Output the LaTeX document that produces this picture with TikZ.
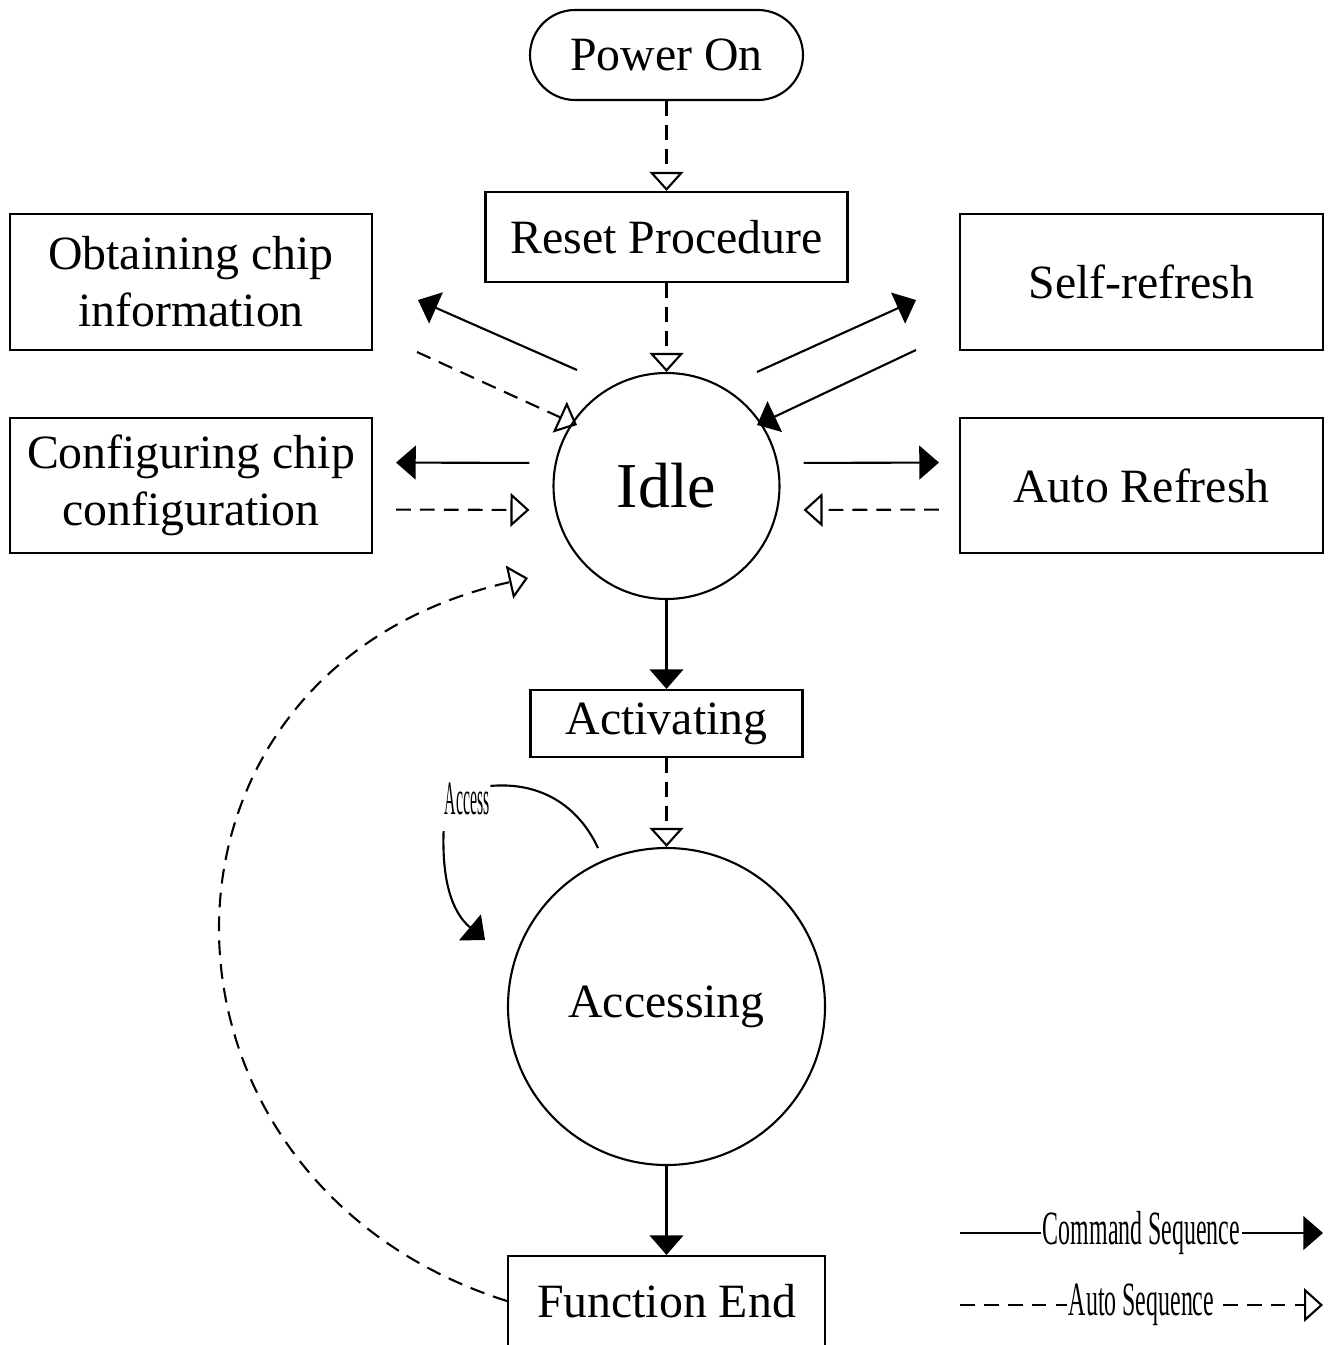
\documentclass[tikz,border=0pt]{standalone}
\usepackage{fontspec}
\setmainfont{Liberation Serif}
\usetikzlibrary{arrows.meta}

\begin{document}
\begin{tikzpicture}[
    line width=0.6pt,
    every node/.style={font=\fontsize{13.6}{16.3}\selectfont},
    box/.style={draw, rectangle, align=center, inner sep=0pt},
    stat/.style={draw, circle, inner sep=0pt},
    cmdseq/.style={-{Triangle[length=5.6pt,width=9.6pt]}},
    autoseq/.style={dash pattern=on 4.2pt off 2.6pt, -{Triangle[open,length=5.4pt,width=9.6pt]}},
    lgtext/.style={fill=white, inner sep=0.5pt}
]
    \useasboundingbox (0,0) rectangle (13.31,-13.45);

    \node [box, rounded corners=0.45cm, minimum width=2.73cm, minimum height=0.9cm] (pwron) at (6.665,-0.55) {Power On};
    \node [box, minimum width=3.62cm, minimum height=0.9cm] (reset) at (6.665,-2.37) {Reset Procedure};
    \node [box, minimum width=3.62cm, minimum height=1.36cm] (obtain) at (1.91,-2.82) {Obtaining chip\\information};
    \node [box, minimum width=3.63cm, minimum height=1.36cm] (selfref) at (11.415,-2.82) {Self-refresh};
    \node [box, minimum width=3.62cm, minimum height=1.35cm] (config) at (1.91,-4.855) {Configuring chip\\configuration};
    \node [box, minimum width=3.63cm, minimum height=1.35cm] (autoref) at (11.415,-4.855) {Auto Refresh};
    \node [stat, minimum size=2.26cm, font=\fontsize{18.2}{22}\selectfont] (idle) at (6.665,-4.86) {Idle};
    \node [box, minimum width=2.72cm, minimum height=0.67cm] (activ) at (6.665,-7.235) {Activating};
    \node [stat, minimum size=3.17cm] (access) at (6.665,-10.065) {Accessing};
    \node [box, minimum width=3.17cm, minimum height=0.9cm] (fend) at (6.665,-13.01) {Function End};
    \node [inner sep=0pt] (acclbl) at (4.67,-7.99) {\scalebox{0.33}[1]{Access}};

    \coordinate (ob1) at (5.77,-3.70);
    \coordinate (ob2) at (4.18,-3.00);
    \coordinate (ob3) at (4.17,-3.52);
    \coordinate (ob4) at (5.77,-4.25);
    \coordinate (sr1) at (7.57,-3.72);
    \coordinate (sr2) at (9.16,-3.00);
    \coordinate (sr3) at (9.16,-3.50);
    \coordinate (sr4) at (7.57,-4.25);
    \coordinate (ret) at (5.28,-5.78);
    \coordinate (acc1) at (5.98,-8.48);
    \coordinate (acc2) at (4.85,-9.40);
    \coordinate (lg1) at (9.60,-12.33);
    \coordinate (lg2) at (13.23,-12.33);
    \coordinate (lg3) at (9.60,-13.05);
    \coordinate (lg4) at (13.23,-13.05);

    \draw [autoseq] (pwron) -- (reset);
    \draw [autoseq] (reset) -- (idle);
    \draw [cmdseq] (idle) -- (activ);
    \draw [autoseq] (activ) -- (access);
    \draw [cmdseq] (access) -- (fend);

    \draw [cmdseq] (ob1) -- (ob2);
    \draw [autoseq] (ob3) -- (ob4);
    \draw [cmdseq] (sr1) -- (sr2);
    \draw [cmdseq] (sr3) -- (sr4);

    \draw [cmdseq, shorten <=0.23cm, shorten >=0.23cm] ([yshift=0.23cm]idle.west) -- ([yshift=0.23cm]config.east);
    \draw [autoseq, shorten <=0.23cm, shorten >=0.23cm] ([yshift=-0.24cm]config.east) -- ([yshift=-0.24cm]idle.west);
    \draw [cmdseq, shorten <=0.23cm, shorten >=0.2cm] ([yshift=0.23cm]idle.east) -- ([yshift=0.23cm]autoref.west);
    \draw [autoseq, shorten <=0.2cm, shorten >=0.23cm] ([yshift=-0.24cm]autoref.west) -- ([yshift=-0.24cm]idle.east);

    \draw [autoseq] (fend.west) .. controls (1.25,-11.80) and (1.20,-6.70) .. (ret);

    \draw (acc1) to[out=115, in=5] ([yshift=-0.04cm]acclbl.north east);
    \draw [cmdseq] ([yshift=-0.15cm]acclbl.south west) to[out=268, in=140] (acc2);

    \draw [cmdseq] (lg1) -- node [lgtext] {\scalebox{0.5}[1]{Command Sequence}} (lg2);
    \draw [autoseq] (lg3) -- node [lgtext] {\scalebox{0.5}[1]{Auto Sequence}} (lg4);
\end{tikzpicture}
\end{document}
